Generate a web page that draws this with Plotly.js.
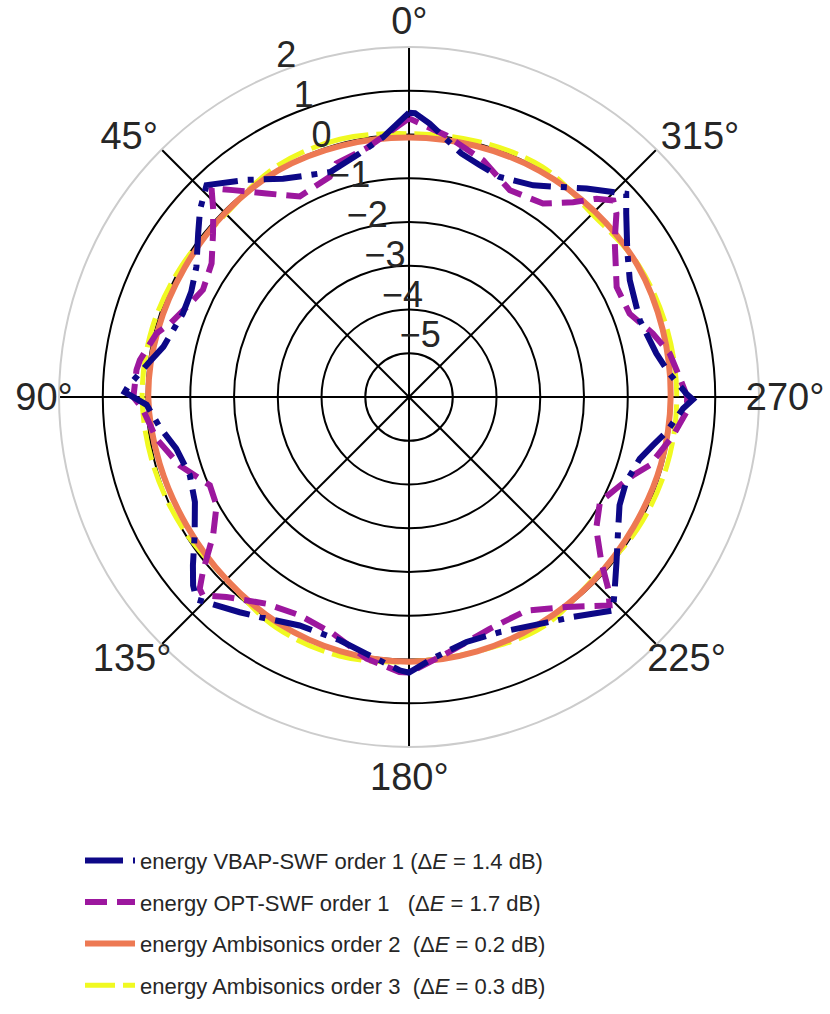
<!DOCTYPE html>
<html>
<head>
<meta charset="utf-8">
<script src="https://cdn.plot.ly/plotly-3.0.1.min.js"></script>
<style>html,body{margin:0;padding:0;background:#fff;}#chart{width:830px;height:1014px;}</style>
</head>
<body>
<div id="chart"></div>
<script>
// VBAP-SWF order 1 (dB vs azimuth in degrees)
const vbapTheta = [0, 5.7, 11.5, 15.3, 19.3, 24.8, 30, 36.8, 43.7, 48.2, 52.2, 58.5, 64.2, 69.7, 78.4, 82.6, 87.9, 89, 91.7, 96.9, 102.5, 109.6, 116.1, 122.8, 127.9, 131.1, 133.6, 141.8, 145.8, 154.4, 164.1, 170.6, 178, 180, 185.2, 193.2, 201.1, 208.5, 216.7, 223.7, 227, 231.5, 237.8, 242.8, 248.6, 255, 258.8, 262.3, 267.6, 269.5, 270.7, 275.1, 280, 288.4, 297.9, 303.9, 310.2, 313.1, 319.6, 329.6, 337.6, 343, 347.8, 355.7, 358.8, 360];
const vbapE = [0.50, -0.03, -0.32, -0.45, -0.55, -0.42, -0.24, 0.20, 0.70, 0.41, 0.10, -0.30, -0.47, -0.49, -0.27, 0.01, 0.43, 0.50, 0.00, -0.26, -0.55, -0.68, -0.55, -0.17, 0.26, 0.55, 0.71, 0.26, 0.08, -0.21, -0.22, -0.05, 0.25, 0.30, 0.00, -0.25, -0.24, -0.06, 0.27, 0.75, 0.43, 0.06, -0.35, -0.59, -0.67, -0.54, -0.32, -0.06, 0.27, 0.49, 0.34, -0.02, -0.26, -0.44, -0.29, 0.01, 0.50, 0.80, 0.26, -0.39, -0.56, -0.46, -0.31, 0.27, 0.49, 0.50];

// OPT-SWF order 1
const optTheta = [0, 9.7, 17.3, 19.8, 28.6, 35, 40.4, 43.4, 46.3, 50.1, 55.9, 62.5, 66.8, 72.9, 75.8, 82.2, 84.3, 90, 92.5, 99.4, 106.6, 113.9, 119.4, 125.2, 130.3, 132.5, 133.9, 137.6, 145.4, 153.4, 162.2, 170.8, 178, 180, 189, 199.2, 208.8, 216.9, 223.9, 226.1, 229.4, 234.9, 241.2, 246.2, 250.7, 254.2, 261.7, 266.9, 270, 274.2, 279.5, 284.6, 290.7, 297.9, 307.3, 311.5, 313.9, 316.6, 319.9, 325.3, 334, 342.6, 351.9, 360];
const optE = [0.37, -0.23, -0.41, -0.65, -0.78, -0.32, 0.21, 0.57, 0.19, -0.16, -0.55, -0.69, -0.56, -0.29, -0.05, 0.21, 0.26, 0.30, 0.10, -0.15, -0.53, -1.02, -0.95, -0.52, 0.18, 0.49, 0.54, 0.19, -0.26, -0.42, -0.32, 0.06, 0.29, 0.30, -0.10, -0.39, -0.43, 0.00, 0.61, 0.32, -0.21, -0.77, -1.02, -0.82, -0.58, -0.28, 0.10, 0.35, 0.36, 0.20, 0.04, -0.24, -0.61, -0.63, -0.09, 0.33, 0.48, 0.24, -0.18, -0.62, -0.74, -0.33, 0.04, 0.37];

// Ambisonics order 2 and 3
const ambiTheta = [0, 15, 30, 45, 60, 75, 90, 105, 120, 135, 150, 165, 180, 195, 210, 225, 240, 255, 270, 285, 300, 315, 330, 345, 360];
const ambi2E = [-0.07, -0.05, -0.02, -0.05, -0.08, -0.06, -0.04, -0.10, -0.13, -0.10, -0.03, 0.02, 0.05, 0.02, -0.02, -0.05, -0.07, -0.04, -0.02, 0.00, 0.03, 0.00, -0.03, -0.06, -0.07];
const ambi3E = [0.02, 0.10, 0.08, -0.08, 0.00, 0.08, 0.10, 0.05, -0.02, -0.10, 0.08, 0.13, 0.05, 0.02, 0.08, -0.08, 0.03, 0.10, 0.12, 0.10, 0.05, -0.08, 0.08, 0.05, 0.02];

const names = [
  'energy VBAP-SWF order 1 (Δ<i>E</i> = 1.4 dB)',
  'energy OPT-SWF order 1 \u00a0\u00a0(Δ<i>E</i> = 1.7 dB)',
  'energy Ambisonics order 2 \u00a0(Δ<i>E</i> = 0.2 dB)',
  'energy Ambisonics order 3 \u00a0(Δ<i>E</i> = 0.3 dB)'
];
const radialTicks = [-5, -4, -3, -2, -1, 0, 1, 2];
const radialTickText = ['−5', '−4', '−3', '−2', '−1', '0', '1', '2'];
const angleTicks = [0, 45, 90, 135, 180, 225, 270, 315];
// angular labels, split into two label rings (near ring / far ring)
const angleTicksNear = [90, 135, 225, 270];
const angleTextNear = ['90°', '135°', '225°', '270°'];
const angleTicksFar = [0, 45, 180, 315];
const angleTextFar = ['0°', '45°', '180°', '315°'];

const traces = [
  {type: 'scatterpolar', mode: 'lines', theta: ambiTheta, r: ambi3E, name: names[3], legendgroup: 'd', legendrank: 4,
   line: {color: '#f0f921', width: 5, dash: '30px,8px', shape: 'spline'}},
  {type: 'scatterpolar', mode: 'lines', theta: ambiTheta, r: ambi2E, name: names[2], legendgroup: 'c', legendrank: 3,
   line: {color: '#ed7953', width: 6, shape: 'spline'}},
  {type: 'scatterpolar', mode: 'lines', theta: optTheta, r: optE, name: names[1], legendgroup: 'b', legendrank: 2,
   line: {color: '#9c179e', width: 6, dash: '22px,10px'}},
  {type: 'scatterpolar', mode: 'lines', theta: vbapTheta, r: vbapE, name: names[0], legendgroup: 'a', legendrank: 1,
   line: {color: '#0d0887', width: 6, dash: '38px,10px,6px,10px'}},
  {type: 'scatterpolar', mode: 'lines', subplot: 'polar2', theta: [], r: [], showlegend: false, hoverinfo: 'skip'},
  {type: 'scatterpolar', mode: 'lines', subplot: 'polar3', theta: [], r: [], showlegend: false, hoverinfo: 'skip'},
  {type: 'scatterpolar', mode: 'lines', subplot: 'polar4', theta: [], r: [], showlegend: false, hoverinfo: 'skip'}
];

function labelRing(domain, vals, text) {
  return {
    domain: domain,
    bgcolor: 'rgba(0,0,0,0)',
    angularaxis: {
      rotation: 90, direction: 'counterclockwise',
      tickmode: 'array', tickvals: vals, ticktext: text,
      ticks: '', showline: false, showgrid: false,
      tickfont: {size: 38, color: '#262626'}
    },
    radialaxis: {visible: false, range: [-6, 2]}
  };
}

const layout = {
  width: 830, height: 1014,
  margin: {l: 0, r: 0, t: 0, b: 0},
  paper_bgcolor: '#ffffff',
  font: {family: 'Liberation Sans, Arial, sans-serif', color: '#262626'},
  showlegend: true,
  legend: {
    x: 0.0964, xanchor: 'left', y: 0.172, yanchor: 'top',
    traceorder: 'grouped', tracegroupgap: 10, itemwidth: 50,
    font: {size: 22, color: '#262626'}, bgcolor: 'rgba(0,0,0,0)'
  },
  polar: {
    domain: {x: [0.0711, 0.9145], y: [0.2633, 0.9536]},
    bgcolor: '#ffffff',
    angularaxis: {
      rotation: 90, direction: 'counterclockwise',
      tickmode: 'array', tickvals: angleTicks, showticklabels: false,
      ticks: '', showline: true, linecolor: '#cccccc', linewidth: 2,
      showgrid: true, gridcolor: '#000000', gridwidth: 2
    },
    radialaxis: {
      range: [-6, 2], angle: 112.5,
      tickmode: 'array', tickvals: radialTicks, showticklabels: false,
      ticks: '', showline: false,
      showgrid: true, gridcolor: '#000000', gridwidth: 2
    }
  },
  polar2: labelRing({x: [0.0883, 0.8980], y: [0.2774, 0.9401]}, angleTicksNear, angleTextNear),
  polar3: labelRing({x: [0.06542, 0.92084], y: [0.25868, 0.95888]}, angleTicksFar, angleTextFar),
  // radial tick labels, drawn half a unit outward like the reference's corner-anchored labels
  polar4: {
    domain: {x: [0.04506, 0.94120], y: [0.24201, 0.97554]},
    bgcolor: 'rgba(0,0,0,0)',
    angularaxis: {rotation: 90, direction: 'counterclockwise', showticklabels: false,
                  ticks: '', showline: false, showgrid: false},
    radialaxis: {
      range: [-6.5, 2], angle: 113.8, side: 'clockwise', tickangle: 113.8,
      tickmode: 'array', tickvals: radialTicks, ticktext: radialTickText,
      ticks: '', showline: false, showgrid: false,
      tickfont: {size: 36, color: '#262626'}
    }
  }
};

Plotly.newPlot('chart', traces, layout, {displayModeBar: false, staticPlot: true});
</script>
</body>
</html>
